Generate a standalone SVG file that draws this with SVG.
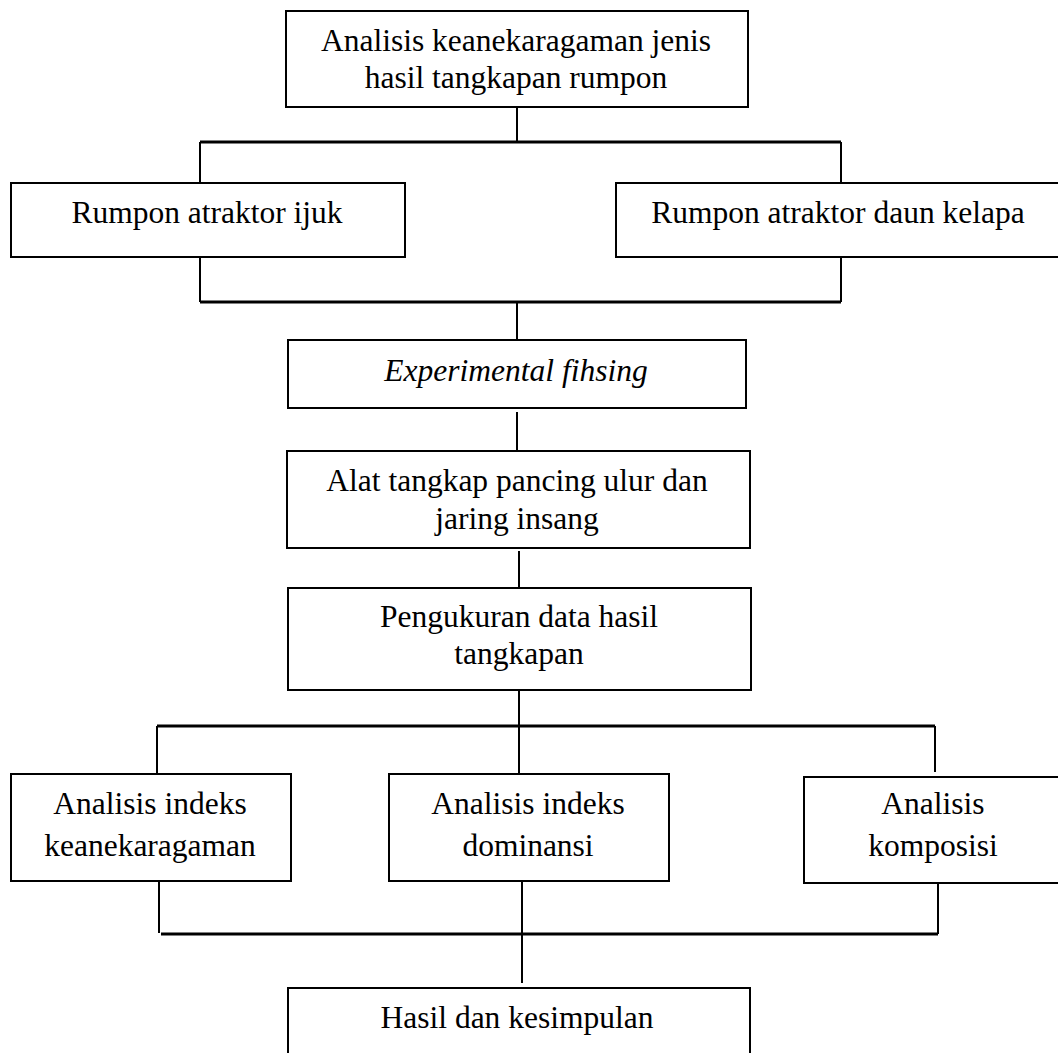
<svg xmlns="http://www.w3.org/2000/svg" width="1058" height="1053" viewBox="0 0 1058 1053">
<style>
.box{fill:#fff;stroke:#000;stroke-width:2}
.t{font-family:"Liberation Serif","Times New Roman",serif;font-size:31.5px;fill:#000;text-anchor:middle}
.i{font-style:italic}
.c{stroke:#000;stroke-width:2;fill:none}
.h{stroke:#000;stroke-width:3;fill:none}
</style>
<rect width="1058" height="1053" fill="#fff"/>
<g id="connectors">
<line class="c" x1="517" y1="107" x2="517" y2="142"/>
<line class="h" x1="200" y1="142" x2="841" y2="142"/>
<line class="c" x1="200" y1="142" x2="200" y2="183"/>
<line class="c" x1="841" y1="142" x2="841" y2="183"/>
<line class="c" x1="200" y1="257" x2="200" y2="302"/>
<line class="c" x1="841" y1="257" x2="841" y2="302"/>
<line class="h" x1="200" y1="302" x2="841" y2="302"/>
<line class="c" x1="517" y1="302" x2="517" y2="340"/>
<line class="c" x1="517" y1="412" x2="517" y2="451"/>
<line class="c" x1="519" y1="551" x2="519" y2="588"/>
<line class="c" x1="519" y1="690" x2="519" y2="776"/>
<line class="h" x1="157" y1="726" x2="935" y2="726"/>
<line class="c" x1="157" y1="726" x2="157" y2="774"/>
<line class="c" x1="935" y1="726" x2="935" y2="772"/>
<line class="c" x1="159" y1="881" x2="159" y2="933"/>
<line class="c" x1="522" y1="881" x2="522" y2="983"/>
<line class="c" x1="938" y1="883" x2="938" y2="934"/>
<line class="h" x1="161" y1="934" x2="938" y2="934"/>
</g>
<g id="n1"><rect class="box" x="286" y="11" width="462" height="96"/>
<text class="t" x="516" y="51">Analisis keanekaragaman jenis</text>
<text class="t" x="516" y="88">hasil tangkapan rumpon</text></g>
<g id="n2"><rect class="box" x="11" y="183" width="394" height="74"/>
<text class="t" x="207" y="223">Rumpon atraktor ijuk</text></g>
<g id="n3"><rect class="box" x="616" y="183" width="450" height="74"/>
<text class="t" x="838" y="223">Rumpon atraktor daun kelapa</text></g>
<g id="n4"><rect class="box" x="288" y="340" width="458" height="68"/>
<text class="t i" x="516" y="381">Experimental fihsing</text></g>
<g id="n5"><rect class="box" x="287" y="451" width="463" height="97"/>
<text class="t" x="517" y="491">Alat tangkap pancing ulur dan</text>
<text class="t" x="517" y="529">jaring insang</text></g>
<g id="n6"><rect class="box" x="288" y="588" width="463" height="102"/>
<text class="t" x="519" y="627">Pengukuran data hasil</text>
<text class="t" x="519" y="664">tangkapan</text></g>
<g id="n7"><rect class="box" x="11" y="774" width="280" height="107"/>
<text class="t" x="150" y="814">Analisis indeks</text>
<text class="t" x="150" y="856">keanekaragaman</text></g>
<g id="n8"><rect class="box" x="389" y="774" width="280" height="107"/>
<text class="t" x="528" y="814">Analisis indeks</text>
<text class="t" x="528" y="856">dominansi</text></g>
<g id="n9"><rect class="box" x="804" y="777" width="262" height="106"/>
<text class="t" x="933" y="814">Analisis</text>
<text class="t" x="933" y="856">komposisi</text></g>
<g id="n10"><rect class="box" x="288" y="988" width="462" height="80"/>
<text class="t" x="517" y="1028">Hasil dan kesimpulan</text></g>
</svg>
